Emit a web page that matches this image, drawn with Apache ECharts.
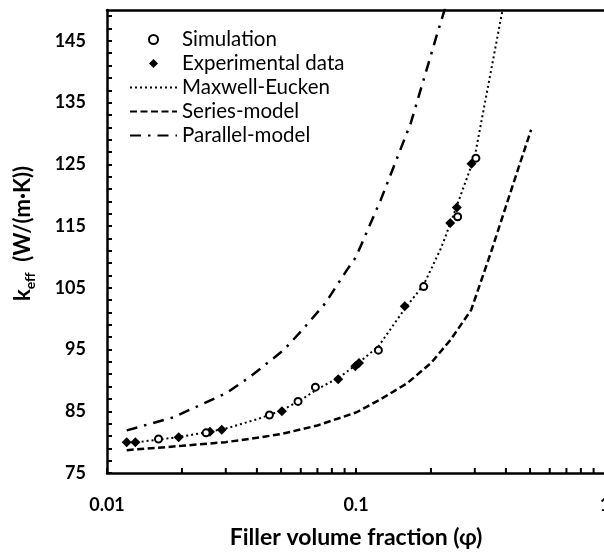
<!DOCTYPE html>
<html>
<head>
<meta charset="utf-8">
<script src="https://cdn.jsdelivr.net/npm/echarts@6/dist/echarts.min.js"></script>
<style>
  html, body { margin: 0; padding: 0; background: #fff; }
  #chart { width: 604px; height: 552px; }
</style>
</head>
<body>
<div id="chart"></div>
<script>
// Effective thermal conductivity vs. filler volume fraction
const simulation = [
  [0.0161, 80.5], [0.025, 81.5], [0.0449, 84.4], [0.0585, 86.6], [0.0687, 88.9],
  [0.123, 94.9], [0.187, 105.2], [0.256, 116.5], [0.303, 126.0]
];
const experimental = [
  [0.012, 80.0], [0.013, 80.0], [0.0194, 80.8], [0.0259, 81.7], [0.0289, 82.0],
  [0.0504, 85.0], [0.0848, 90.2], [0.0993, 92.3], [0.1028, 92.8], [0.157, 102.0],
  [0.239, 115.5], [0.254, 118.0], [0.291, 125.1]
];
const maxwellEucken = [
  [0.012, 79.8], [0.0161, 80.4], [0.02, 80.9], [0.025, 81.6], [0.03, 82.2],
  [0.04, 83.7], [0.05, 85.1], [0.06, 86.8], [0.07, 88.6], [0.085, 90.4],
  [0.1, 92.5], [0.123, 95.5], [0.157, 101.6], [0.187, 105.5], [0.22, 111.5],
  [0.25, 117.5], [0.3, 126.3], [0.343, 138.7], [0.386, 149.6], [0.39, 150.6]
];
const seriesModel = [
  [0.012, 78.7], [0.02, 79.4], [0.03, 80.0], [0.04, 80.7], [0.05, 81.3],
  [0.07, 82.7], [0.1, 84.8], [0.125, 86.9], [0.16, 89.5], [0.2, 92.8],
  [0.24, 96.6], [0.29, 101.4], [0.35, 111.0], [0.4, 118.2], [0.45, 124.5],
  [0.505, 130.6]
];
const parallelModel = [
  [0.012, 81.9], [0.0184, 84.0], [0.03, 87.9], [0.0376, 90.6], [0.0512, 94.9],
  [0.06, 97.9], [0.0753, 102.5], [0.092, 107.9], [0.1, 110.0], [0.1256, 119.2],
  [0.166, 131.7], [0.2125, 146.3], [0.228, 150.3]
];
// minor log ticks between decades
const xMinorTicks = [0.02, 0.03, 0.04, 0.05, 0.06, 0.07, 0.08, 0.09,
                     0.2, 0.3, 0.4, 0.5, 0.6, 0.7, 0.8, 0.9];
const yMin = 75, yMax = 150, yLabelStep = 10, yTickStep = 2;

const FONT = 'Lato';
const DIAMOND = 'path://M0,-1L1,0L0,1L-1,0Z';
const hiddenSymbol = { opacity: 0 };

const chart = echarts.init(document.getElementById('chart'), null, { renderer: 'canvas' });

chart.setOption({
  animation: false,
  backgroundColor: '#fff',
  textStyle: { fontFamily: FONT, color: '#000' },
  grid: { left: 107, right: -1, top: 10, bottom: 79, containLabel: false, outerBoundsMode: 'none' },
  legend: {
    orient: 'vertical',
    left: 124, top: 24,
    itemWidth: 47, itemHeight: 9, itemGap: 3,
    symbolKeepAspect: true,
    textStyle: { fontFamily: FONT, fontSize: 20.5, lineHeight: 20, color: '#000' },
    data: [
      { name: 'Simulation' },
      { name: 'Experimental data' },
      { name: 'Maxwell-Eucken', itemStyle: hiddenSymbol },
      { name: 'Series-model', itemStyle: hiddenSymbol },
      { name: 'Parallel-model', itemStyle: hiddenSymbol }
    ],
    selectedMode: false
  },
  xAxis: [{
    type: 'log', logBase: 10, min: 0.01, max: 1,
    name: 'Filler volume fraction (φ)',
    nameLocation: 'middle', nameGap: 53,
    nameTextStyle: { fontFamily: FONT, fontSize: 23, fontWeight: 'bold', color: '#000' },
    axisLine: { show: true, onZero: false, lineStyle: { color: '#000', width: 2.5 } },
    axisTick: { show: true, inside: true, length: 5, lineStyle: { color: '#000', width: 2 } },
    axisLabel: {
      margin: 23, fontFamily: FONT, fontSize: 18, fontWeight: 'bold', color: '#000',
      formatter: v => String(+v.toPrecision(3))
    },
    splitLine: { show: false }
  }, {
    type: 'log', logBase: 10, min: 0.01, max: 1, position: 'top',
    axisLine: { show: true, lineStyle: { color: '#000', width: 2.5 } },
    axisTick: { show: false }, axisLabel: { show: false }, splitLine: { show: false }
  }],
  yAxis: {
    type: 'value', min: yMin, max: yMax, interval: yTickStep,
    name: '{k|k}{sub|eff}{k|  (W/(m·K))}',
    nameLocation: 'middle', nameGap: 70,
    nameTextStyle: {
      padding: [0, 0, 0, 16],
      rich: {
        k: { fontFamily: FONT, fontSize: 22, fontWeight: 'bold', color: '#000', lineHeight: 28 },
        sub: { fontFamily: FONT, fontSize: 14, fontWeight: 'bold', color: '#000', lineHeight: 28, verticalAlign: 'bottom', padding: [11, 0, 0, 0] }
      }
    },
    axisLine: { show: true, onZero: false, lineStyle: { color: '#000', width: 2.5 } },
    axisTick: { show: true, inside: true, length: 5, lineStyle: { color: '#000', width: 2 } },
    axisLabel: {
      margin: 21, fontFamily: FONT, fontSize: 18, fontWeight: 'bold', color: '#000',
      showMaxLabel: false,
      formatter: v => ((v - yMin) % yLabelStep === 0 && v < yMax) ? String(v) : ''
    },
    splitLine: { show: false }
  },
  series: [
    {
      name: 'Maxwell-Eucken', type: 'line', data: maxwellEucken, symbol: 'none',
      clip: true, z: 2,
      lineStyle: { color: '#000', width: 2, type: [2, 3], cap: 'butt' },
      itemStyle: { color: '#000' }
    },
    {
      name: 'Series-model', type: 'line', data: seriesModel, symbol: 'none',
      clip: true, z: 2,
      lineStyle: { color: '#000', width: 2.5, type: [7, 3.5] },
      itemStyle: { color: '#000' }
    },
    {
      name: 'Parallel-model', type: 'line', data: parallelModel, symbol: 'none',
      clip: true, z: 2,
      lineStyle: { color: '#000', width: 2.5, type: [11, 7, 2.5, 7] },
      itemStyle: { color: '#000' }
    },
    {
      name: 'Experimental data', type: 'scatter', data: experimental,
      symbol: DIAMOND, symbolSize: 10, symbolKeepAspect: true, z: 4,
      itemStyle: { color: '#000', opacity: 1 }
    },
    {
      name: 'Simulation', type: 'scatter', data: simulation,
      symbol: 'circle', symbolSize: 7, z: 5,
      itemStyle: { color: '#fff', borderColor: '#000', borderWidth: 2, opacity: 1 }
    },
    {
      name: 'xMinorTicks', type: 'custom', silent: true, z: 6, clip: false,
      data: xMinorTicks.map(v => [v, yMin]),
      renderItem: (params, api) => {
        const p = api.coord([api.value(0), api.value(1)]);
        return {
          type: 'line',
          shape: { x1: p[0], y1: p[1], x2: p[0], y2: p[1] - 5 },
          style: { stroke: '#000', lineWidth: 2 }
        };
      }
    }
  ]
});
</script>
</body>
</html>
